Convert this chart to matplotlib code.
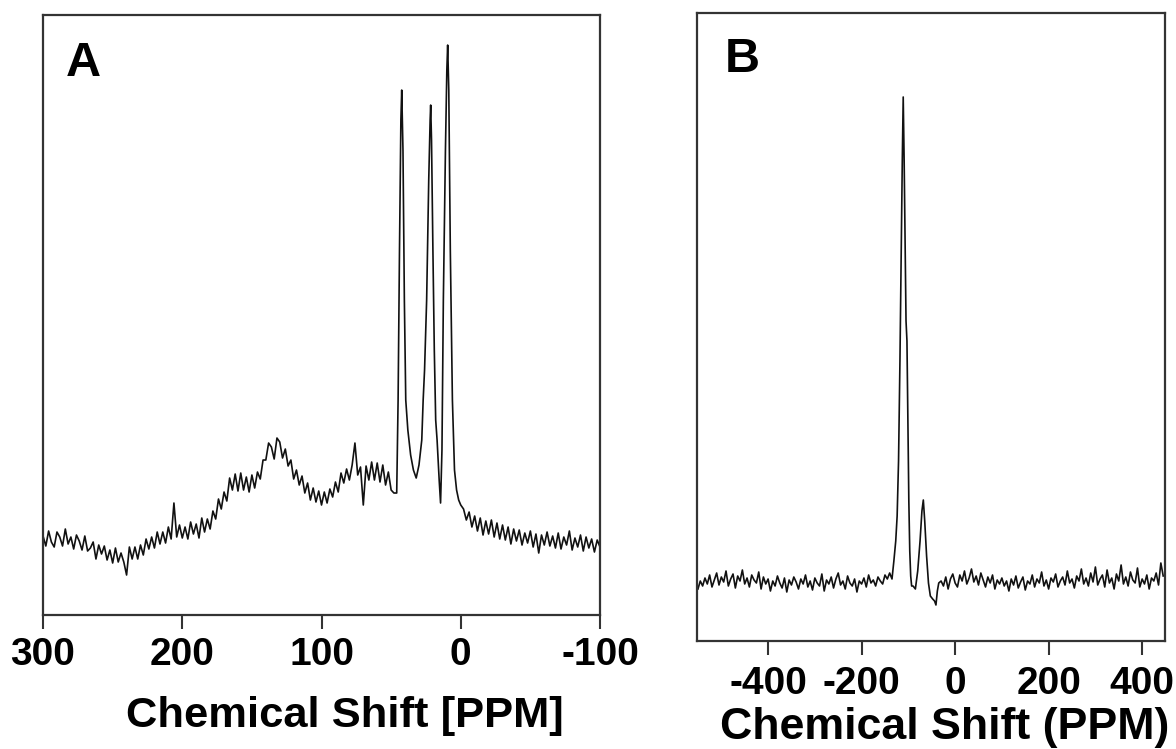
import numpy as np
import matplotlib
matplotlib.use("Agg")
from matplotlib import pyplot as plt

plt.rcParams['font.family'] = ['Liberation Sans', 'DejaVu Sans']

# ---- Panel A: spectrum (intensity in arbitrary units) ----
# noisy part from 300 ppm down to 48 ppm, 2 ppm spacing
a_left = [79, 69, 84, 73, 68, 83, 78, 69, 86, 71, 78, 66, 80, 74, 65, 79, 64, 67, 73, 56,
          70, 61, 69, 55, 65, 52, 67, 53, 62, 53, 40, 68, 56, 68, 56, 70, 60, 76, 66, 78,
          67, 83, 71, 83, 72, 88, 76, 112, 78, 90, 77, 88, 76, 93, 81, 91, 77, 97, 83, 96,
          86, 104, 96, 116, 106, 123, 114, 137, 125, 141, 124, 142, 125, 138, 123, 140, 127, 143, 136, 155,
          155, 172, 168, 156, 177, 173, 157, 166, 149, 155, 136, 145, 130, 139, 122, 132, 115, 127, 113, 124,
          110, 123, 112, 126, 118, 133, 123, 142, 132, 146, 135, 150, 172, 140, 148, 110, 149, 135, 153, 135,
          152, 133, 150, 130, 143, 125, 122]
a_left_ppm = (300, 48)

# the three sharp lines
a_peak_ppm = [46, 45, 44, 43, 42.4, 41.5, 40.5, 39.5, 38, 36, 34, 32, 30, 28, 27, 26, 24.5, 23, 22,
              21.6, 21, 20, 19, 18, 17, 15.5, 14.5, 13.5, 12.5, 11, 10, 9.4, 8.6, 7.5, 6, 4.5, 3, 1.5, 0]
a_peak_int = [122, 215, 365, 495, 525, 465, 315, 215, 185, 160, 145, 137, 150, 175, 215, 245, 315, 435, 495,
              510, 475, 365, 265, 195, 175, 135, 112, 165, 315, 465, 545, 570, 525, 365, 215, 145, 125, 115, 110]

# noisy tail from -2 ppm to -100 ppm, 2 ppm spacing
a_right = [106, 95, 103, 88, 99, 84, 97, 80, 94, 81, 95, 78, 92, 76, 90, 75, 88, 71, 86, 74,
           85, 70, 82, 72, 84, 68, 81, 62, 80, 70, 83, 69, 79, 67, 82, 66, 78, 70, 84, 65,
           77, 68, 80, 64, 78, 67, 76, 63, 75, 68]
a_right_ppm = (-2, -100)

# ---- Panel B ----
b_left = [52, 60, 55, 63, 57, 66, 54, 61, 68, 56, 64, 59, 70, 55, 62, 67, 53, 65, 60, 71,
          57, 63, 54, 66, 61, 58, 69, 52, 64, 57, 62, 50, 60, 55, 65, 58, 53, 63, 49, 61,
          56, 64, 59, 52, 62, 57, 66, 54, 60, 51, 63, 58, 55, 67, 50, 61, 57, 64, 53, 62,
          68, 56, 60, 52, 65, 58, 55, 62, 49, 60, 57, 63, 54, 66, 58, 61, 55, 64, 60, 57,
          66, 62, 68]
b_left_ppm = (-550, -140)

b_peak_ppm = [-135, -131, -127, -124, -121, -118, -115, -113, -111, -109, -107, -105, -103, -101, -99,
              -97, -95, -93, -90, -85, -80, -75, -71, -68, -65, -61, -57, -53, -48, -44, -41, -38, -35]
b_peak_int = [62, 80, 100, 125, 180, 280, 400, 480, 544, 480, 400, 320, 300, 220, 140,
              90, 65, 55, 55, 52, 70, 100, 130, 141, 120, 85, 58, 45, 42, 40, 36, 50, 58]

b_right = [60, 55, 64, 52, 62, 67, 58, 54, 66, 60, 70, 57, 63, 72, 59, 65, 56, 68, 61, 54,
           64, 58, 66, 52, 61, 57, 63, 55, 60, 50, 62, 56, 65, 53, 59, 64, 51, 60, 57, 66,
           54, 62, 58, 69, 55, 61, 52, 63, 59, 67, 54, 60, 64, 56, 70, 58, 62, 53, 65, 60,
           72, 57, 63, 55, 68, 59, 74, 56, 62, 66, 54, 71, 58, 63, 52, 67, 60, 76, 57, 64,
           55, 69, 61, 58, 73, 54, 62, 57, 66, 52, 63, 60, 68, 56, 78, 65]
b_right_ppm = (-30, 445)

a_ticks = [300, 200, 100, 0, -100]
b_ticks = [-400, -200, 0, 200, 400]


def spectrum(left, left_rng, pk_x, pk_y, right, right_rng):
    x = np.concatenate([np.linspace(left_rng[0], left_rng[1], len(left)), pk_x,
                        np.linspace(right_rng[0], right_rng[1], len(right))])
    y = np.concatenate([left, pk_y, right])
    order = np.argsort(x)
    return x[order], y[order]


fig = plt.figure(figsize=(11.76, 7.49), dpi=100)

axA = fig.add_axes([0.0366, 0.1789, 0.4736, 0.801])
axB = fig.add_axes([0.5927, 0.1442, 0.3980, 0.8384])

xa, ya = spectrum(a_left, a_left_ppm, a_peak_ppm, a_peak_int, a_right, a_right_ppm)
axA.plot(xa, ya, color='#111111', linewidth=1.2)
axA.set_xlim(300, -100)
axA.set_ylim(0, 600)

xb, yb = spectrum(b_left, b_left_ppm, b_peak_ppm, b_peak_int, b_right, b_right_ppm)
axB.plot(xb, yb, color='#111111', linewidth=1.2)
axB.set_xlim(-552, 449)
axB.set_ylim(0, 628)

for ax, ticks in [(axA, a_ticks), (axB, b_ticks)]:
    ax.set_xticks(ticks)
    ax.set_xticklabels([str(t) for t in ticks], fontsize=28, fontweight='bold')
    ax.set_yticks([])
    ax.tick_params(axis='x', direction='out', length=10, width=1.5, color='#333333', pad=6)
    for s in ax.spines.values():
        s.set_linewidth(1.6)
        s.set_color('#333333')

axB.tick_params(axis='x', pad=8)

axA.text(0.04, 0.957, 'A', transform=axA.transAxes, fontsize=35, fontweight='bold', va='top', ha='left')
axB.text(0.06, 0.962, 'B', transform=axB.transAxes, fontsize=35, fontweight='bold', va='top', ha='left')

fig.text(345 / 1176, 1 - 716 / 749, 'Chemical Shift [PPM]', fontsize=31.3, fontweight='bold',
         ha='center', va='center')
fig.text(945 / 1176, 1 - 728 / 749, 'Chemical Shift (PPM)', fontsize=32.2, fontweight='bold',
         ha='center', va='center')

fig.savefig('out.png', dpi=100)
